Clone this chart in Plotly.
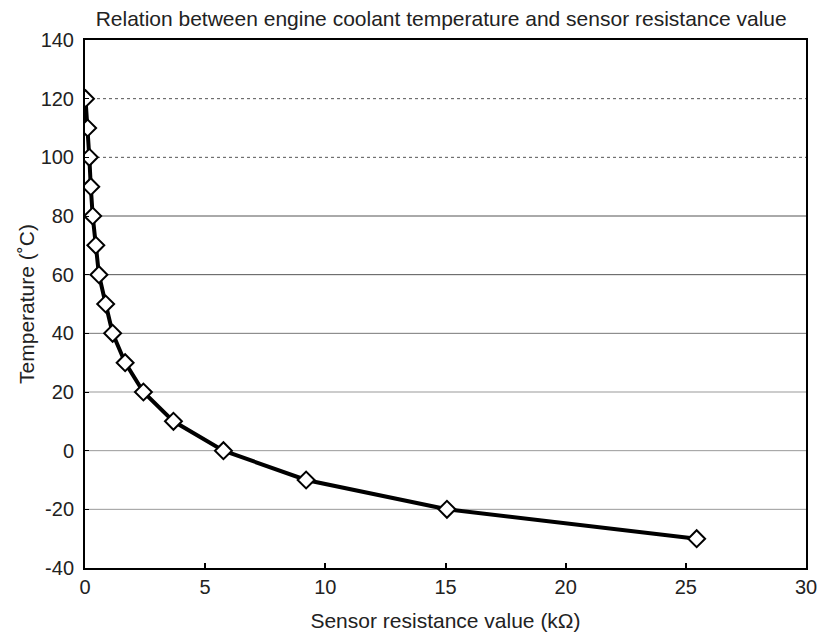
import plotly.graph_objects as go

# Coolant temperature (°C) vs. sensor resistance (kΩ)
temperature_c = [120, 110, 100, 90, 80, 70, 60, 50, 40, 30, 20, 10, 0, -10, -20, -30]
resistance_kohm = [0.02, 0.11, 0.18, 0.24, 0.32, 0.45, 0.58, 0.86, 1.15, 1.67, 2.43,
                   3.68, 5.76, 9.2, 15.06, 25.45]

x_ticks = [0, 5, 10, 15, 20, 25, 30]
y_ticks = [-40, -20, 0, 20, 40, 60, 80, 100, 120, 140]
y_tick_text = ["-40", "-20", "0", "20", "40", "60", "80", "100", "120", "140"]

# Horizontal grid lines and their styles
grid_values = [120, 100, 80, 60, 40, 20, 0, -20]
grid_colors = ["#555555", "#555555", "#555555", "#555555", "#777777", "#999999", "#999999", "#999999"]
grid_dash = ["dot", "dot", "solid", "solid", "solid", "solid", "solid", "solid"]

font_family = "Liberation Sans, Arial, sans-serif"

fig = go.Figure()
fig.add_trace(go.Scatter(
    x=resistance_kohm,
    y=temperature_c,
    mode="lines+markers",
    line=dict(color="black", width=4),
    marker=dict(symbol="diamond", size=13, color="white",
                line=dict(color="black", width=2)),
    showlegend=False,
))

for gv, gc, gd in zip(grid_values, grid_colors, grid_dash):
    fig.add_shape(type="line", xref="paper", yref="y", x0=0, x1=1, y0=gv, y1=gv,
                  line=dict(color=gc, width=1, dash=gd), layer="below")

fig.update_layout(
    width=817, height=634,
    margin=dict(l=85, r=11, t=40, b=66),
    paper_bgcolor="white",
    plot_bgcolor="white",
    font=dict(family=font_family, color="#222222", size=20),
    title=dict(text="Relation between engine coolant temperature and sensor resistance value",
               x=0.54, xanchor="center", y=0.971, yanchor="middle",
               font=dict(size=21, color="#222222")),
)
fig.update_xaxes(
    range=[0, 30], tickvals=x_ticks, showgrid=False, zeroline=False, automargin=False,
    ticklabeloverflow="allow",
    showline=True, linecolor="black", linewidth=2, mirror=True,
    ticks="inside", ticklen=5, tickcolor="black", tickwidth=2,
    title=dict(text="Sensor resistance value (kΩ)", standoff=16, font=dict(size=21)),
    tickfont=dict(size=20),
)
fig.update_yaxes(
    range=[-40, 140], tickvals=y_ticks, ticktext=y_tick_text,
    showgrid=False, zeroline=False, automargin=False,
    ticklabeloverflow="allow", ticklabelstandoff=5,
    showline=True, linecolor="black", linewidth=2, mirror=True,
    ticks="inside", ticklen=4, tickcolor="black", tickwidth=1,
    title=dict(text="Temperature (˚C)", standoff=0, font=dict(size=21)),
    tickfont=dict(size=20),
)

fig.write_html("out.html")
